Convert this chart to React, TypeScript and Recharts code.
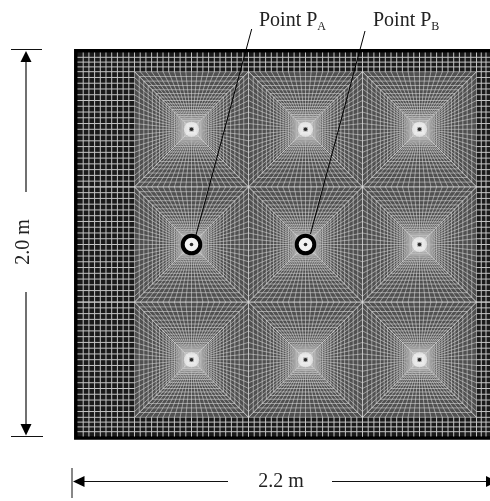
/**
 * 2.2 m x 2.0 m mesh plan with nine refined patches
 */

import React from 'react';
import { LineChart, Line, XAxis, YAxis, ReferenceArea, ReferenceDot } from 'recharts';

interface MeshPoint {
  x: number;
  y: number | null;
}

// patch centres, metres
const centreXs = [0.6, 1.2, 1.8];
const centreYs = [0.4, 1.0, 1.6];
const markedCentres = [[0.6, 1.0], [1.2, 1.0]];

// nodes along a patch edge, measured from the patch centre
const edgeOffsets = [
  -0.3, -0.27, -0.24, -0.21, -0.18, -0.15, -0.12, -0.09, -0.06, -0.03, 0,
  0.03, 0.06, 0.09, 0.12, 0.15, 0.18, 0.21, 0.24, 0.27, 0.3
];

// half widths of the square rings, outer to inner
const ringSizes = [
  0.3, 0.275, 0.251, 0.228, 0.206, 0.186, 0.168, 0.15, 0.133, 0.118, 0.103, 0.09,
  0.077, 0.066, 0.055, 0.046, 0.038, 0.03, 0.024, 0.019, 0.014
];

// coarse grid around the patches
const leftColumns = [0.03, 0.06, 0.09, 0.12, 0.15, 0.18, 0.21, 0.24, 0.27];
const rightColumns = [2.125, 2.15, 2.175];
const bottomRows = [0.025, 0.05, 0.075];
const topRows = [1.925, 1.95, 1.975];

// leader lines from the labels down to the marked points
const leaderLines = [
  { x: 0.9168, y: 2.1224 },
  { x: 0.6237, y: 1.0495 },
  { x: 0.6237, y: null },
  { x: 1.5132, y: 2.112 },
  { x: 1.2263, y: 1.0547 }
];

const addSegment = (rows: MeshPoint[], x1: number, y1: number, x2: number, y2: number) => {
  rows.push({ x: x1, y: y1 }, { x: x2, y: y2 }, { x: x2, y: null });
};

const buildCoarseGrid = () => {
  const rows: MeshPoint[] = [];
  [...leftColumns, ...rightColumns].forEach(x => addSegment(rows, x, 0, x, 2));
  [...bottomRows, ...topRows].forEach(y => addSegment(rows, 0, y, 2.2, y));
  centreXs.forEach(cx => {
    edgeOffsets.forEach(d => {
      addSegment(rows, cx + d, 0, cx + d, 0.1);
      addSegment(rows, cx + d, 1.9, cx + d, 2);
    });
  });
  centreYs.forEach(cy => {
    edgeOffsets.forEach(d => {
      addSegment(rows, 0, cy + d, 0.3, cy + d);
      addSegment(rows, 2.1, cy + d, 2.2, cy + d);
    });
  });
  return rows;
};

const buildPatches = () => {
  const rows: MeshPoint[] = [];
  const inner = ringSizes[ringSizes.length - 1];
  const outer = ringSizes[0];
  centreXs.forEach(cx => {
    centreYs.forEach(cy => {
      // spokes
      edgeOffsets.forEach(d => {
        const t = inner / outer;
        addSegment(rows, cx + d * t, cy - inner, cx + d, cy - outer);
        addSegment(rows, cx + d * t, cy + inner, cx + d, cy + outer);
        addSegment(rows, cx - inner, cy + d * t, cx - outer, cy + d);
        addSegment(rows, cx + inner, cy + d * t, cx + outer, cy + d);
      });
      // rings
      ringSizes.forEach(r => {
        addSegment(rows, cx - r, cy - r, cx + r, cy - r);
        addSegment(rows, cx + r, cy - r, cx + r, cy + r);
        addSegment(rows, cx + r, cy + r, cx - r, cy + r);
        addSegment(rows, cx - r, cy + r, cx - r, cy - r);
      });
    });
  });
  return rows;
};

const coarseGrid = buildCoarseGrid();
const patchMesh = buildPatches();

const serif = '"Liberation Serif", "Times New Roman", serif';
const dimColor = '#111';

const App: React.FC = () => (
  <div
    style={{
      position: 'absolute',
      left: 0,
      top: 0,
      width: 490,
      height: 501,
      overflow: 'hidden',
      background: '#fff',
      filter: 'blur(0.35px)'
    }}
  >
    <LineChart width={490} height={501} margin={{ top: 0, right: 0, bottom: 0, left: 0 }}>
      <XAxis type="number" dataKey="x" hide domain={[-0.40789, 2.17105]} allowDataOverflow />
      <YAxis type="number" hide domain={[-0.33594, 2.27344]} allowDataOverflow />

      <ReferenceArea
        x1={-0.009}
        x2={2.2}
        y1={-0.008}
        y2={2.009}
        fill="#1a1a1a"
        fillOpacity={1}
        stroke="#000"
        strokeWidth={3.5}
        ifOverflow="visible"
      />
      <ReferenceArea x1={0.3} x2={2.1} y1={0.1} y2={1.9} fill="#505050" fillOpacity={1} stroke="none" />

      <Line
        data={coarseGrid}
        dataKey="y"
        stroke="#c4c4c4"
        strokeWidth={1}
        dot={false}
        activeDot={false}
        connectNulls={false}
        isAnimationActive={false}
      />
      <Line
        data={patchMesh}
        dataKey="y"
        stroke="#dedede"
        strokeWidth={0.55}
        dot={false}
        activeDot={false}
        connectNulls={false}
        isAnimationActive={false}
      />
      <Line
        data={leaderLines}
        dataKey="y"
        stroke="#000"
        strokeWidth={1}
        dot={false}
        activeDot={false}
        connectNulls={false}
        isAnimationActive={false}
      />

      {centreXs.flatMap(cx =>
        centreYs.map(cy => (
          <ReferenceDot key={`glow-${cx}-${cy}`} x={cx} y={cy} r={7.5} fill="#fff" fillOpacity={0.55} stroke="none" />
        ))
      )}
      {markedCentres.map(([cx, cy]) => (
        <ReferenceDot key={`mark-${cx}`} x={cx} y={cy} r={8.8} fill="#f2f2f2" stroke="#000" strokeWidth={4} />
      ))}
      {centreXs.flatMap(cx =>
        centreYs.map(cy => (
          <ReferenceDot key={`${cx}-${cy}`} x={cx} y={cy} r={1.8} fill="#2a2a2a" stroke="none" />
        ))
      )}

      <text x={259} y={26} fontFamily={serif} fontSize={20} fill="#222">
        Point P<tspan fontSize={12} dy={4}>A</tspan>
      </text>
      <text x={373} y={26} fontFamily={serif} fontSize={20} fill="#222">
        Point P<tspan fontSize={12} dy={4}>B</tspan>
      </text>

      {/* height dimension */}
      <line x1={11} y1={49.5} x2={42} y2={49.5} stroke={dimColor} strokeWidth={1} />
      <line x1={11} y1={436.5} x2={43} y2={436.5} stroke={dimColor} strokeWidth={1} />
      <line x1={26} y1={60} x2={26} y2={192} stroke={dimColor} strokeWidth={1.2} />
      <line x1={26} y1={292} x2={26} y2={426} stroke={dimColor} strokeWidth={1.2} />
      <polygon points="26,51 20.5,62 31.5,62" fill="#000" />
      <polygon points="26,435.5 20.5,424 31.5,424" fill="#000" />
      <text
        x={29}
        y={242}
        transform="rotate(-90 29 242)"
        textAnchor="middle"
        fontFamily={serif}
        fontSize={20}
        fill="#222"
      >
        2.0 m
      </text>

      {/* width dimension */}
      <line x1={72} y1={468} x2={72} y2={498} stroke={dimColor} strokeWidth={1} />
      <line x1={80} y1={481.5} x2={228} y2={481.5} stroke={dimColor} strokeWidth={1.2} />
      <line x1={332} y1={481.5} x2={490} y2={481.5} stroke={dimColor} strokeWidth={1.2} />
      <polygon points="73,481.5 84.5,476 84.5,487" fill="#000" />
      <polygon points="497,481.5 486,476 486,487" fill="#000" />
      <text x={281} y={487} textAnchor="middle" fontFamily={serif} fontSize={20} fill="#222">
        2.2 m
      </text>
    </LineChart>
  </div>
);

export default App;
